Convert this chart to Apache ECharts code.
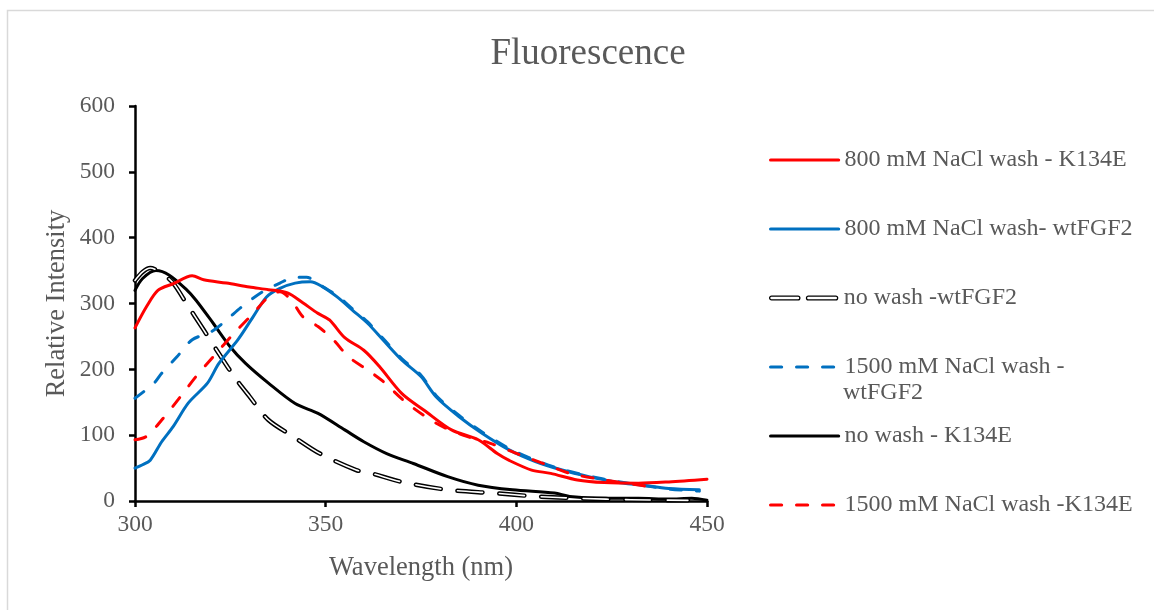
<!DOCTYPE html>
<html>
<head>
<meta charset="utf-8">
<script src="https://cdn.jsdelivr.net/npm/echarts@6/dist/echarts.min.js"></script>
<style>
html,body{margin:0;padding:0;background:#fff;}
#chart{width:1154px;height:610px;}
</style>
</head>
<body>
<div id="chart"></div>
<script>
// ---- data ----
const titleText = 'Fluorescence';
const xAxisName = 'Wavelength (nm)';
const yAxisName = 'Relative Intensity';
const xTicks = [300, 350, 400, 450];
const yTicks = [0, 100, 200, 300, 400, 500, 600];

const seriesNames = [
  '800 mM NaCl wash - K134E',
  '800 mM NaCl wash- wtFGF2',
  'no wash -wtFGF2',
  '1500 mM NaCl wash - wtFGF2',
  'no wash - K134E',
  '1500 mM NaCl wash -K134E'
];

// 800 mM NaCl wash - K134E (red solid)
const wlRed800 = [300,303,306,310,315,318,324,330,335,340,344,348,351,355,360,364,370,376,383,390,395,398,404,409,416,423,432,440,450];
const valRed800 = [263,295,320,330,342,336,331,325,321,316,301,285,275,248,229,205,163,137,108,93,72,62,47,42,32,28,27,29,33];

// 800 mM NaCl wash- wtFGF2 (blue solid)
const wlBlue800 = [300,302,304,307,310,314,319,322,327,331,334.5,338,342,346,349,353,357,361,365,370,375,379,385,391,398,405,412,419,426,433,440,448];
const valBlue800 = [50,55,62,90,113,149,179,209,245,280,310,323,331,333,326,310,290,270,245,214,189,158,128,103,78,60,47,37,29,24,19,17];

// no wash -wtFGF2 (double black/white dashed)
const wlNoWashWt = [300,302,304,307,310,313.5,318,322,326,330,335,341.5,348.5,358,362,370,382,394,405,417,430,445];
const valNoWashWt = [335,348,354,346,331,300,260,224,189,159,123,98,72,47,42,29,17,12,7,4,2,1];

// 1500 mM NaCl wash - wtFGF2 (blue dashed)
const wlBlue1500 = [300,305,307,311,315,320,324,328,333.5,338,342,345,348,353,357,361,365,370,375,379,385,391,398,405,412,419,426,433,440,448];
const valBlue1500 = [156,179,194,219,245,257,275,295,318,331,340,340,330,312,292,272,247,216,191,160,130,105,80,62,48,38,30,24,18,15];

// no wash - K134E (black solid)
const wlNoWashK = [300,302,305.5,309,313.5,316,320.5,325,329,335,342,348,355,360,366,373,382,390,399,410,414,423,432,440,446,450];
const valNoWashK = [320,338,350,343,321,305,270,234,209,179,148,133,108,90,72,57,37,24,17,12,7,4,4,3,4,1];

// 1500 mM NaCl wash -K134E (red dashed)
const wlRed1500 = [300,303,307,312,316,320.5,326,331,335,338,341,344,348,352,356,361,365,371,379,386,393,401,408,414,423,430,437];
const valRed1500 = [93,98,123,159,189,219,255,285,310,318,305,280,265,245,219,199,182,150,118,100,88,70,55,42,32,26,20];

function pairs(xs, ys){ return xs.map((x,i)=>[x, ys[i]]); }

const FONT = '"Liberation Serif", "Times New Roman", serif';
const TXT = '#595959';
const RED = '#FF0000', BLUE = '#0070C0', BLACK = '#000000';

const chart = echarts.init(document.getElementById('chart'));

function lineSeries(name, data, color, type, width, z){
  return {
    name: name, type: 'line', data: data, showSymbol: false, symbol: 'none',
    smooth: 0.3, z: z, silent: true, animation: false,
    lineStyle: {color: color, width: width, type: type, cap: 'round', join: 'round'},
    itemStyle: {color: color}
  };
}

const dashBW = [25, 17];
const dashCol = [11, 15];

const series = [
  lineSeries(seriesNames[4], pairs(wlNoWashK, valNoWashK), BLACK, 'solid', 3, 2),
  lineSeries(seriesNames[2], pairs(wlNoWashWt, valNoWashWt), BLACK, dashBW, 4.5, 3),
  lineSeries('_inner', pairs(wlNoWashWt, valNoWashWt), '#ffffff', dashBW, 1.6, 4),
  lineSeries(seriesNames[1], pairs(wlBlue800, valBlue800), BLUE, 'solid', 3, 5),
  lineSeries(seriesNames[3], pairs(wlBlue1500, valBlue1500), BLUE, dashCol, 3, 6),
  lineSeries(seriesNames[5], pairs(wlRed1500, valRed1500), RED, dashCol, 3, 7),
  lineSeries(seriesNames[0], pairs(wlRed800, valRed800), RED, 'solid', 3, 8)
];

const legendCenters = [160, 229, 298, 367, 436, 505];
const legends = seriesNames.map((name, k) => {
  const item = {name: name};
  if (k === 2) {
    item.icon = 'path://M1,0 L29,0 A2,2 0 0 1 29,4 L1,4 A2,2 0 0 1 1,0 Z M40,0 L69,0 A2,2 0 0 1 69,4 L40,4 A2,2 0 0 1 40,0 Z';
    item.itemStyle = {color: '#ffffff', borderColor: '#000000', borderWidth: 1.3, opacity: 1};
  }
  return {
    show: true, orient: 'vertical', left: 769, top: legendCenters[k] - 14,
    itemWidth: 68, itemHeight: k === 2 ? 5 : 14, itemGap: 0, padding: 0,
    selectedMode: false,
    itemStyle: {opacity: 0},
    lineStyle: {width: 3.2, cap: 'round'},
    data: [item],
    formatter: function(n){ return n === '1500 mM NaCl wash - wtFGF2' ? '1500 mM NaCl wash -' : n; },
    textStyle: {fontFamily: FONT, fontSize: 24, color: TXT, lineHeight: 28, padding: [0,0,0,1]}
  };
});

chart.setOption({
  animation: false,
  backgroundColor: '#ffffff',
  title: {
    text: titleText, left: 583, top: 31, textAlign: 'center',
    textStyle: {fontFamily: FONT, fontSize: 37, fontWeight: 'normal', color: TXT}
  },
  graphic: [
    {type: 'rect', shape: {x: 7.5, y: 10.5, width: 1300, height: 700},
     style: {fill: 'none', stroke: '#d9d9d9', lineWidth: 1.5}, silent: true, z: -10},
    {type: 'text', left: 843, top: 381,
     style: {text: 'wtFGF2', font: '24px "Liberation Serif", "Times New Roman", serif', fill: TXT}}
  ],
  legend: legends,
  grid: {left: 135, right: 1154 - 707, top: 106, bottom: 610 - 501, containLabel: false},
  xAxis: {
    type: 'value', min: xTicks[0], max: xTicks[xTicks.length - 1], interval: 50,
    name: xAxisName, nameLocation: 'middle', nameGap: 54,
    nameTextStyle: {fontFamily: FONT, fontSize: 26.5, color: TXT},
    axisLine: {show: true, onZero: false, lineStyle: {color: '#000', width: 2.5}},
    axisTick: {show: true, inside: false, length: 6, lineStyle: {color: '#000', width: 2.5}},
    axisLabel: {fontFamily: FONT, fontSize: 23.5, color: TXT, margin: 12},
    splitLine: {show: false}
  },
  yAxis: {
    type: 'value', min: yTicks[0], max: yTicks[yTicks.length - 1], interval: 100,
    name: yAxisName, nameLocation: 'middle', nameGap: 64, nameRotate: 90,
    nameTextStyle: {fontFamily: FONT, fontSize: 26.5, color: TXT},
    axisLine: {show: true, onZero: false, lineStyle: {color: '#000', width: 2.5}},
    axisTick: {show: true, inside: false, length: 6, lineStyle: {color: '#000', width: 2.5}},
    axisLabel: {fontFamily: FONT, fontSize: 23.5, color: TXT, margin: 20},
    splitLine: {show: false}
  },
  series: series
});
</script>
</body>
</html>
